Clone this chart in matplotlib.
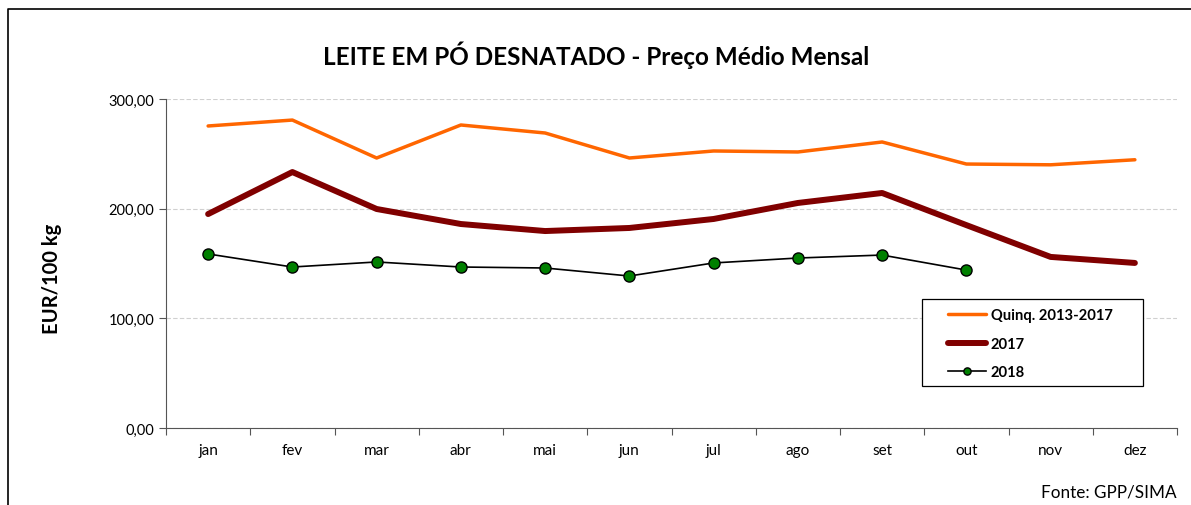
import numpy as np
import matplotlib.pyplot as plt
from matplotlib.lines import Line2D
from matplotlib.patches import Rectangle

plt.rcParams['font.family'] = ['Lato', 'DejaVu Sans']

meses = ['jan', 'fev', 'mar', 'abr', 'mai', 'jun', 'jul', 'ago', 'set', 'out', 'nov', 'dez']
quinq = [275.4, 280.8, 246.2, 276.3, 269.0, 246.2, 252.6, 251.7, 260.8, 240.7, 240.0, 244.6]
ano2017 = [195.1, 233.4, 199.7, 186.0, 179.6, 182.4, 190.6, 205.2, 214.3, 185.0, 156.0, 150.5]
ano2018 = [158.7, 146.8, 151.4, 146.8, 145.9, 138.6, 150.5, 155.0, 157.7, 144.0]

W, H = 1191, 506
fig = plt.figure(figsize=(W / 100, H / 100), dpi=100)
ax = fig.add_axes([166 / W, 1 - 429 / H, (1177 - 166) / W, (429 - 100) / H])

x = np.arange(len(meses))
ax.plot(x, quinq, color='#ff6600', lw=2.5, label='Quinq. 2013-2017', solid_capstyle='round')
ax.plot(x, ano2017, color='#800000', lw=4.3, label='2017', solid_capstyle='round')
ax.plot(x[:len(ano2018)], ano2018, color='black', lw=1.2, marker='o', ms=8,
        markerfacecolor='#008000', markeredgecolor='black', markeredgewidth=1, label='2018')

ax.set_xlim(-0.5, 11.5)
ax.set_ylim(0, 300)
ax.set_yticks([0, 100, 200, 300])
ax.set_yticklabels(['0,00', '100,00', '200,00', '300,00'], fontsize=10.5)
ax.set_xticks(np.arange(-0.5, 12, 1))
ax.set_xticklabels([])
ax.set_xticks(x, minor=True)
ax.set_xticklabels(meses, minor=True, fontsize=11)
ax.tick_params(axis='x', which='minor', length=0, pad=11)
ax.tick_params(axis='x', which='major', length=5, color='#555555')
ax.tick_params(axis='y', length=5, color='#555555')

ax.grid(axis='y', color='#d0d0d0', ls=(0, (4, 2)), lw=0.8)
ax.set_axisbelow(True)
for s in ['top', 'right']:
    ax.spines[s].set_visible(False)
ax.spines['left'].set_color('#555555')
ax.spines['bottom'].set_color('#555555')

fig.text(52 / W, 1 - 279 / H, 'EUR/100 kg', rotation=90, ha='center', va='center',
         fontsize=14.5, fontweight='bold')
fig.text(596 / W, 1 - 55 / H, 'LEITE EM PÓ DESNATADO - Preço Médio Mensal',
         ha='center', va='center', fontsize=17.5, fontweight='bold')
fig.text(1177 / W, 1 - 493 / H, 'Fonte: GPP/SIMA', ha='right', va='center', fontsize=12.3)

fig.add_artist(Rectangle((922 / W, 1 - 387 / H), (1143 - 922) / W, 87 / H,
                         transform=fig.transFigure, facecolor='white', edgecolor='black',
                         lw=0.9, zorder=5))
leg = fig.legend(loc='upper left', bbox_to_anchor=(948 / W, 1 - 309 / H),
                 frameon=False, prop={'weight': 'bold', 'size': 10.6},
                 handlelength=2.6, handletextpad=0.3, labelspacing=1.0,
                 borderpad=0, borderaxespad=0, markerscale=0.65)
leg.set_zorder(6)

fig.add_artist(Line2D([8 / W, 8 / W, 1], [0, 1 - 10 / H, 1 - 10 / H],
                      color='black', lw=1.2, transform=fig.transFigure))

fig.savefig('out.png', dpi=100)
